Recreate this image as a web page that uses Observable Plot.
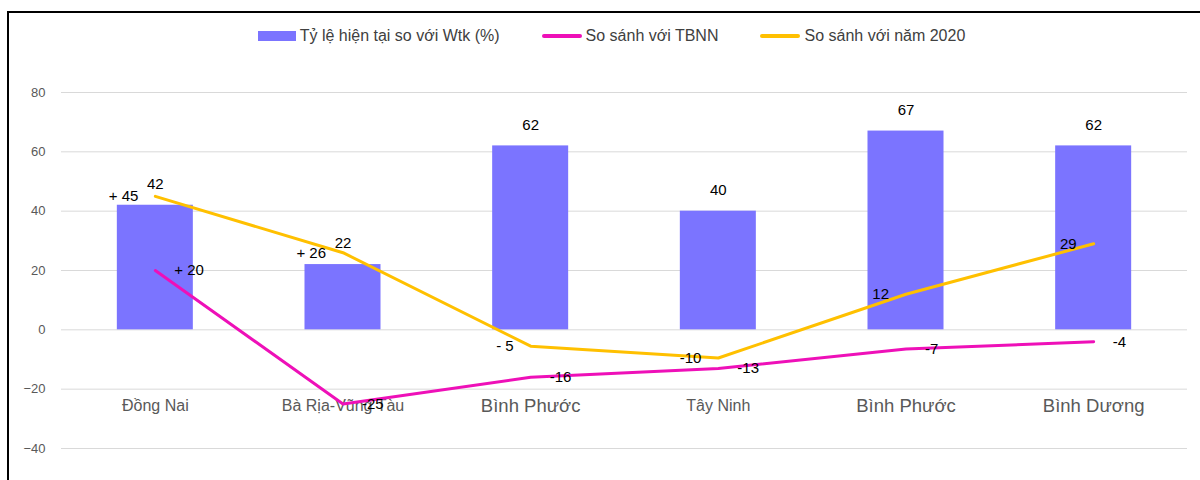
<!DOCTYPE html>
<html>
<head>
<meta charset="utf-8">
<script src="https://cdn.jsdelivr.net/npm/d3@7"></script>
<script src="https://cdn.jsdelivr.net/npm/@observablehq/plot@0.6"></script>
<style>
  html, body { margin: 0; padding: 0; background: #fff; overflow: hidden; width: 1200px; height: 480px; }
  body { font-family: "Liberation Sans", Arial, sans-serif; position: relative; }
  #frame { position: absolute; left: 7px; top: 11px; width: 1300px; height: 600px; border: 2px solid #000; box-sizing: border-box; }
  #legend { position: absolute; left: 0; top: 27px; width: 1223px; display: flex; justify-content: center; align-items: center; font-size: 16px; color: #404040; }
  .item { display: flex; align-items: center; margin: 0 21px; }
  .sw { display: inline-block; margin-right: 4px; }
  #chart { position: absolute; left: 0; top: 60px; }
</style>
</head>
<body>
<div id="frame"></div>
<div id="legend"></div>
<div id="chart"></div>
<script>
// ---- data ----
const categories = ["Đồng Nai", "Bà Rịa-Vũng Tàu", "Bình Phước", "Tây Ninh", "Bình Phước", "Bình Dương"];
const ratioWtk = [42, 22, 62, 40, 67, 62];            // Tỷ lệ hiện tại so với Wtk (%)
const vsTBNN = [20, -25, -16, -13, -6.5, -4];         // So sánh với TBNN
const vs2020 = [45, 26, -5.5, -9.5, 12, 29];          // So sánh với năm 2020
const labelsTBNN = ["+ 20", "-25", "-16", "-13", "-7", "-4"];
const labels2020 = ["+ 45", "+ 26", "- 5", "-10", "12", "29"];
const yTicks = [-40, -20, 0, 20, 40, 60, 80];
const seriesNames = ["Tỷ lệ hiện tại so với Wtk (%)", "So sánh với TBNN", "So sánh với năm 2020"];

// ---- styles ----
const colBar = "#7B74FF", colTBNN = "#EE10B8", colY2020 = "#FFC000";
const bigLabel = new Set([2, 4, 5]);

const rows = categories.map((c, i) => ({
  i, cat: c, bar: ratioWtk[i], tbnn: vsTBNN[i], y2020: vs2020[i],
  lT: labelsTBNN[i], l20: labels2020[i]
}));
const idx = rows.map(d => d.i);

// legend
const legend = document.getElementById("legend");
const swatches = [
  `<span class="sw" style="width:38px;height:10px;background:${colBar}"></span>`,
  `<span class="sw" style="width:40px;height:4px;border-radius:2px;background:${colTBNN}"></span>`,
  `<span class="sw" style="width:40px;height:4px;border-radius:2px;background:${colY2020}"></span>`
];
seriesNames.forEach((n, k) => {
  const el = document.createElement("div");
  el.className = "item";
  el.innerHTML = swatches[k] + `<span>${n}</span>`;
  legend.appendChild(el);
});

const chart = Plot.plot({
  width: 1200,
  height: 420,
  marginLeft: 61,
  marginRight: 13,
  marginTop: 32,
  marginBottom: 32,
  style: { fontFamily: "Liberation Sans, Arial, sans-serif", background: "transparent" },
  x: { type: "band", domain: idx, paddingInner: 0.595, paddingOuter: 0.2975, round: false, axis: null },
  y: { domain: [-40, 80], axis: null },
  marks: [
    Plot.gridY(yTicks, { stroke: "#d9d9d9", strokeOpacity: 1, strokeWidth: 1 }),
    Plot.axisY(yTicks, { tickSize: 0, tickPadding: 16, fontSize: 13, color: "#595959", label: null }),
    Plot.axisX(idx.filter(i => !bigLabel.has(i)), { tickSize: 0, tickFormat: i => categories[i], fontSize: 16, color: "#595959", dy: -58, label: null }),
    Plot.axisX(idx.filter(i => bigLabel.has(i)), { tickSize: 0, tickFormat: i => categories[i], fontSize: 18.5, color: "#595959", dy: -59, label: null }),
    Plot.barY(rows, { x: "i", y: "bar", fill: colBar }),
    Plot.line(rows, { x: "i", y: "tbnn", stroke: colTBNN, strokeWidth: 3 }),
    Plot.line(rows, { x: "i", y: "y2020", stroke: colY2020, strokeWidth: 3 }),
    Plot.text(rows, { x: "i", y: "bar", text: d => String(d.bar), dy: -21, fontSize: 15, fill: "#000" }),
    Plot.text(rows, { x: "i", y: "y2020", text: "l20", textAnchor: "end", dx: -17, fontSize: 15, fill: "#000" }),
    Plot.text(rows, { x: "i", y: "tbnn", text: "lT", textAnchor: "start", dx: 19, fontSize: 15, fill: "#000" })
  ]
});
document.getElementById("chart").appendChild(chart);
</script>
</body>
</html>
